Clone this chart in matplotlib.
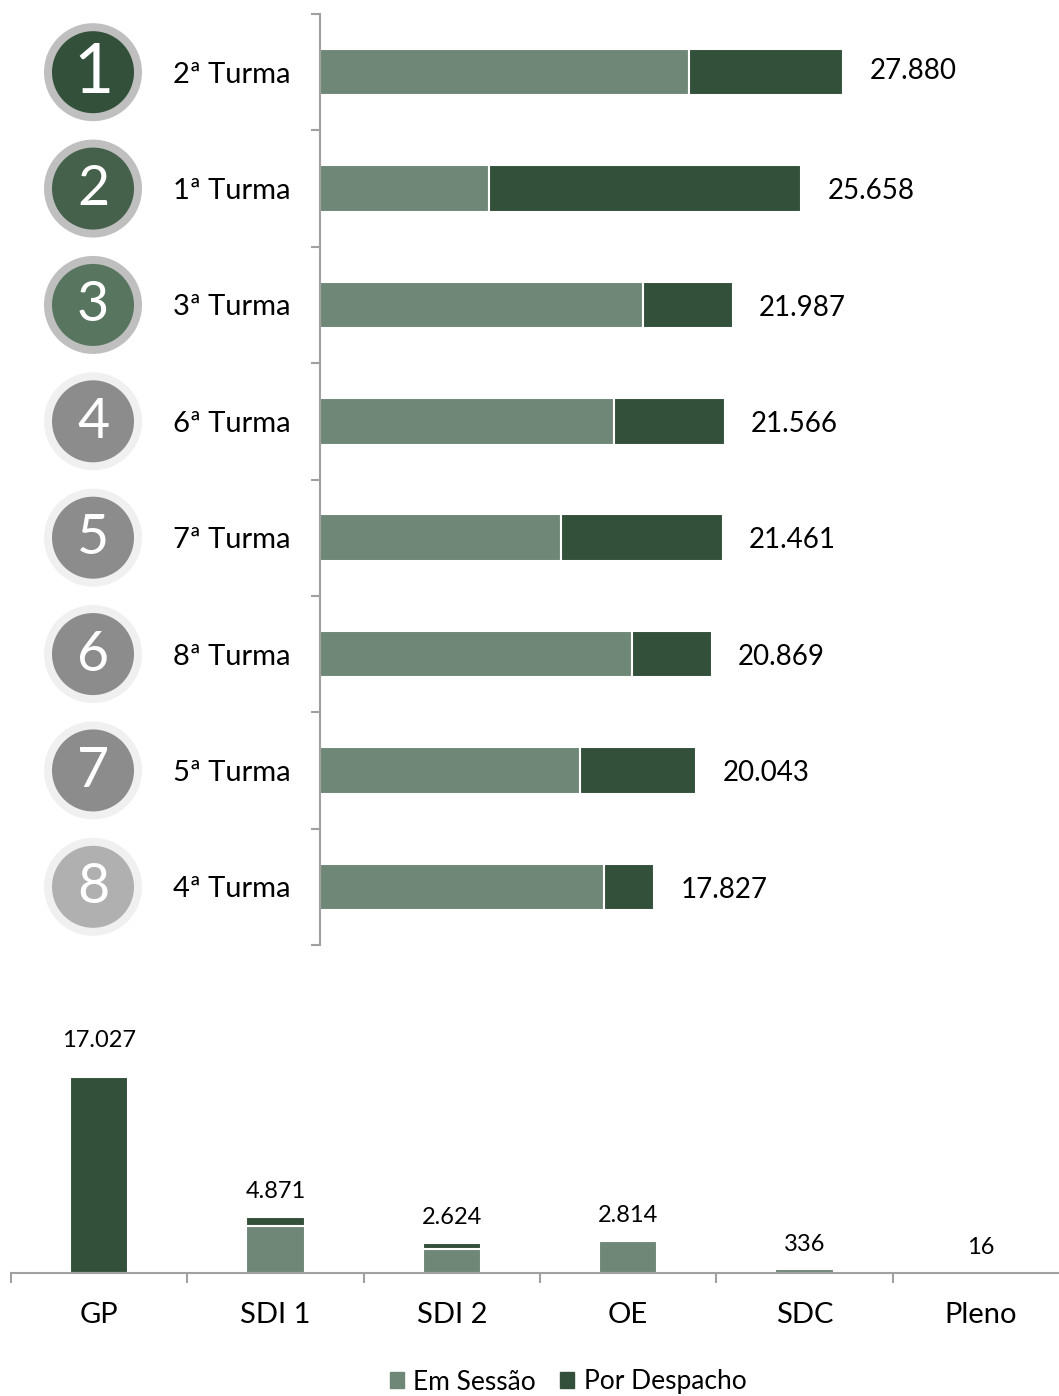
import matplotlib
matplotlib.use('Agg')
import matplotlib.pyplot as plt
from matplotlib.patches import Circle
import numpy as np

plt.rcParams['font.family'] = ['Lato', 'DejaVu Sans']

# ---------------- data ----------------
turmas = ['2ª Turma', '1ª Turma', '3ª Turma', '6ª Turma',
          '7ª Turma', '8ª Turma', '5ª Turma', '4ª Turma']
turma_sessao = [19670, 9008, 17218, 15672, 12847, 16631, 13859, 15139]
turma_despacho = [8210, 16650, 4769, 5894, 8614, 4238, 6184, 2688]
ranks = ['1', '2', '3', '4', '5', '6', '7', '8']

orgaos = ['GP', 'SDI 1', 'SDI 2', 'OE', 'SDC', 'Pleno']
orgao_sessao = [0, 4100, 2050, 2814, 336, 16]
orgao_despacho = [17027, 771, 574, 0, 0, 0]

series_names = ['Em Sessão', 'Por Despacho']

# ---------------- style ----------------
C_SES = '#6E8776'
C_DES = '#33503A'
AX_GRAY = '#A0A0A0'
rank_fill = ['#33503A', '#45604B', '#587560', '#8C8C8C', '#8C8C8C', '#8C8C8C', '#8C8C8C', '#B0B0B0']
rank_ring = ['#BFBFBF', '#BFBFBF', '#BFBFBF', '#F0F0F0', '#F0F0F0', '#F0F0F0', '#F0F0F0', '#F0F0F0']
rank_fs = [50, 40, 40, 40, 40, 40, 40, 40]
top_label_dy = [1, -2, -2, -2, -2, -2, -2, -2]
bot_label_dy = [26, 18, 18, 18, 18, 18]

W, H = 1059, 1396
DPI = 100
fig = plt.figure(figsize=(W / DPI, H / DPI), dpi=DPI)


def fmt(v):
    return f"{v:,}".replace(',', '.')


# ---------------- top: horizontal stacked bars ----------------
ax1 = fig.add_axes([320 / W, 1 - 945 / H, (W - 320) / W, (945 - 14) / H])
y = np.arange(len(turmas))
ax1.barh(y, turma_sessao, height=0.40, color=C_SES, edgecolor='white', linewidth=1.5)
ax1.barh(y, turma_despacho, left=turma_sessao, height=0.40, color=C_DES,
         edgecolor='white', linewidth=1.5)
ax1.set_xlim(0, 39390)
ax1.set_ylim(len(turmas) - 0.5, -0.5)
for s in ['top', 'right', 'bottom']:
    ax1.spines[s].set_visible(False)
ax1.spines['left'].set_color(AX_GRAY)
ax1.spines['left'].set_linewidth(1.5)
ax1.set_xticks([])
ax1.set_yticks(y)
ax1.set_yticklabels(turmas, fontsize=21, color='black')
ax1.tick_params(axis='y', which='major', length=0, pad=21)
ax1.set_yticks(np.arange(-0.5, len(turmas)), minor=True)
ax1.tick_params(axis='y', which='minor', length=6.5, width=1.5, color=AX_GRAY)
for i, (s, d) in enumerate(zip(turma_sessao, turma_despacho)):
    ax1.annotate(fmt(s + d), xy=(s + d, i), xytext=(19, top_label_dy[i]), textcoords='offset points',
                 ha='left', va='center', fontsize=20, color='black')

# ---------------- bottom: vertical stacked bars ----------------
ax2 = fig.add_axes([11 / W, 1 - 1273 / H, (1069 - 11) / W, (1273 - 1030) / H])
x = np.arange(len(orgaos))
ax2.bar(x, orgao_sessao, width=0.33, color=C_SES, edgecolor='white', linewidth=1.5)
ax2.bar(x, orgao_despacho, bottom=orgao_sessao, width=0.33, color=C_DES,
        edgecolor='white', linewidth=1.5)
ax2.set_xlim(-0.5, len(orgaos) - 0.5)
ax2.set_ylim(0, 21110)
for s in ['top', 'right', 'left']:
    ax2.spines[s].set_visible(False)
ax2.spines['bottom'].set_color(AX_GRAY)
ax2.spines['bottom'].set_linewidth(1.5)
ax2.set_yticks([])
ax2.set_xticks(x)
ax2.set_xticklabels(orgaos, fontsize=21, color='black')
ax2.tick_params(axis='x', which='major', length=0, pad=21)
ax2.set_xticks(np.arange(-0.5, len(orgaos)), minor=True)
ax2.tick_params(axis='x', which='minor', length=7, width=1.5, color=AX_GRAY)
for i, (s, d) in enumerate(zip(orgao_sessao, orgao_despacho)):
    ax2.annotate(fmt(s + d), xy=(i, s + d), xytext=(0, bot_label_dy[i]), textcoords='offset points',
                 ha='center', va='center', fontsize=17, color='black')

handles = [plt.Rectangle((0, 0), 1, 1, color=C_SES), plt.Rectangle((0, 0), 1, 1, color=C_DES)]
fig.legend(handles, series_names, loc='center', bbox_to_anchor=(568 / W, 1 - 1382 / H),
           ncol=2, frameon=False, fontsize=19, handlelength=0.55, handleheight=0.55,
           handletextpad=0.35, columnspacing=0.9, borderpad=0)

# ---------------- rank circles (overlay in pixel coords) ----------------
ov = fig.add_axes([0, 0, 1, 1], zorder=5)
ov.set_xlim(0, W)
ov.set_ylim(H, 0)
ov.axis('off')
ov.patch.set_alpha(0)
for i, r in enumerate(ranks):
    disp_y = ax1.transData.transform((0, i))[1]
    cy = H - disp_y
    ov.add_patch(Circle((93, cy), 49, facecolor=rank_ring[i], edgecolor='none'))
    ov.add_patch(Circle((93, cy), 41, facecolor=rank_fill[i], edgecolor='none'))
    ov.text(93, cy + 1, r, ha='center', va='center', color='white', fontsize=rank_fs[i])

fig.savefig('out.png', dpi=DPI)
